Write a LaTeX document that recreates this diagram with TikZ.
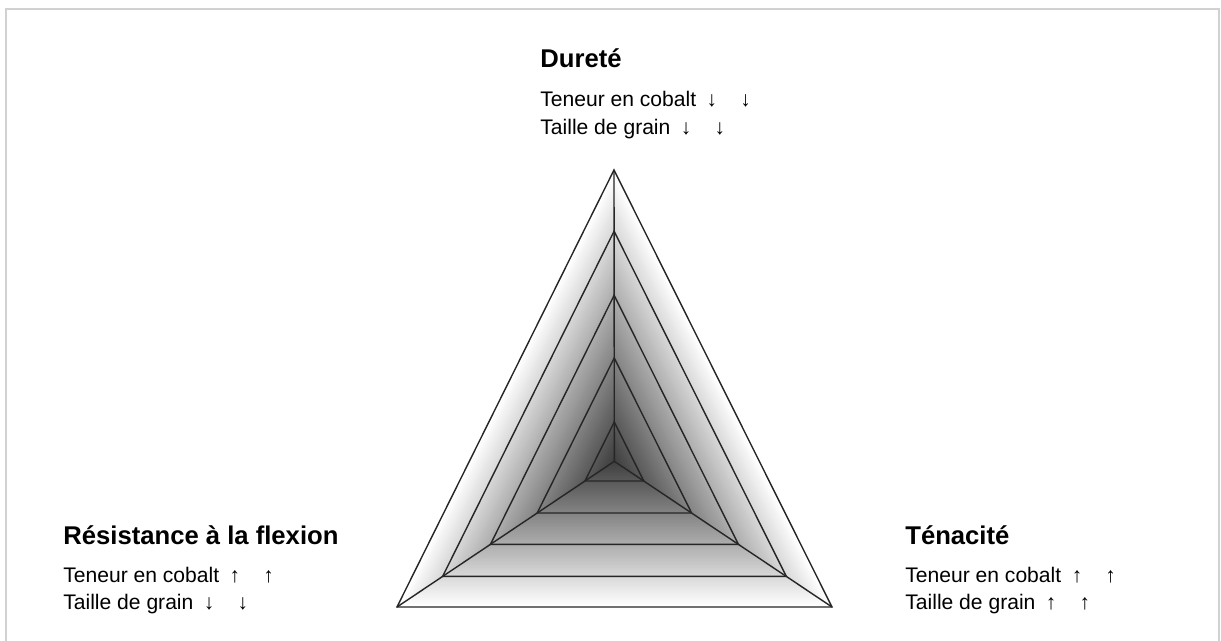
\documentclass[tikz,border=0pt]{standalone}
\usepackage{fontspec}
\setmainfont{Liberation Sans}
\usetikzlibrary{positioning,calc}

\newcommand{\tdn}{\hspace{0.5em}↓\hspace{1.1em}↓}
\newcommand{\tup}{\hspace{0.5em}↑\hspace{1.1em}↑}

\begin{document}
\begin{tikzpicture}[
    x=0.02cm, y=-0.02cm,
    title/.style={anchor=base west, inner sep=0pt, font=\fontsize{14.6}{17}\selectfont\bfseries},
    body/.style={anchor=base west, inner sep=0pt, font=\fontsize{12}{14}\selectfont},
    tri/.style={draw=black!85, line width=0.8pt, line join=miter},
    frame/.style={draw=black!18, line width=1.2pt}
]
    \useasboundingbox (0,0) rectangle (1221,641);

    % frame
    \coordinate (fa) at (6,641);
    \coordinate (fb) at (6,9);
    \coordinate (fc) at (1219,9);
    \coordinate (fd) at (1219,641);
    \draw [frame] (fa) -- (fb) -- (fc) -- (fd);

    % triangle
    \coordinate (A) at (614,170);
    \coordinate (B) at (397,607);
    \coordinate (C) at (832,607);
    \coordinate (O) at (barycentric cs:A=1,B=1,C=1);

    \foreach \i in {0,...,59} {
        \pgfmathsetmacro{\s}{1-\i/60}
        \pgfmathsetmacro{\g}{76*\i/60}
        \fill [black!\g] ($(O)!\s!(A)$) -- ($(O)!\s!(B)$) -- ($(O)!\s!(C)$) -- cycle;
    }
    \foreach \s in {1,0.79,0.57,0.355,0.135}
        \draw [tri] ($(O)!\s!(A)$) -- ($(O)!\s!(B)$) -- ($(O)!\s!(C)$) -- cycle;
    \draw [tri] (O) -- (A);
    \draw [tri] (O) -- (B);
    \draw [tri] (O) -- (C);

    % labels
    \node (durete) [title] at (540,68) {Dureté};
    \node (durete-co) [body, below=0.78cm of durete.base west, anchor=base west] {Teneur en cobalt\tdn};
    \node (durete-gr) [body, below=0.56cm of durete-co.base west, anchor=base west] {Taille de grain\tdn};

    \node (flexion) [title] at (63,545) {Résistance à la flexion};
    \node (flexion-co) [body, below=0.75cm of flexion.base west, anchor=base west] {Teneur en cobalt\tup};
    \node (flexion-gr) [body, below=0.55cm of flexion-co.base west, anchor=base west] {Taille de grain\tdn};

    \node (tenacite) [title] at (905,545) {Ténacité};
    \node (tenacite-co) [body, below=0.75cm of tenacite.base west, anchor=base west] {Teneur en cobalt\tup};
    \node (tenacite-gr) [body, below=0.55cm of tenacite-co.base west, anchor=base west] {Taille de grain\tup};
\end{tikzpicture}
\end{document}
